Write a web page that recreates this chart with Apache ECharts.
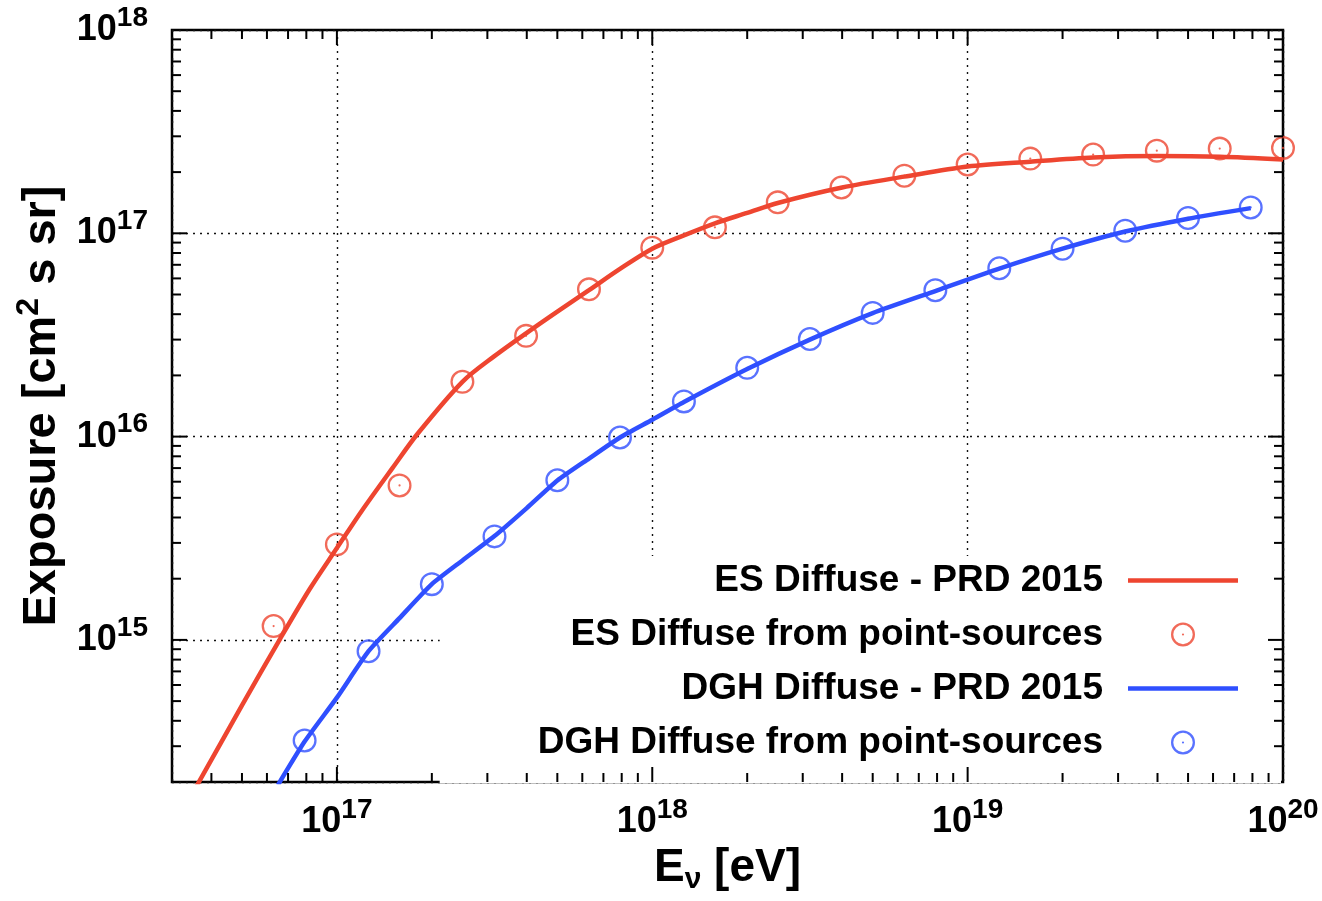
<!DOCTYPE html>
<html>
<head>
<meta charset="utf-8">
<title>Exposure vs neutrino energy</title>
<script src="https://cdn.jsdelivr.net/npm/echarts@6.0.0/dist/echarts.min.js"></script>
<style>
  html, body { margin: 0; padding: 0; background: #fff; }
  #chart { width: 1322px; height: 901px; }
</style>
</head>
<body>
<div id="chart"></div>
<script>
var FONT = '"Liberation Sans", Arial, Helvetica, sans-serif';
var RED = '#ee4530';
var BLUE = '#2f4fff';

var X_MIN = 3e16, X_MAX = 1e20;
var Y_MIN = 2e14, Y_MAX = 1e18;

// ES Diffuse - PRD 2015 (solid curve)
var esLineEnergy   = [3.5e16, 5e16, 6.6e16, 8.2e16, 1e17, 1.2e17, 1.5e17, 1.8e17, 2.5e17, 3.15e17, 4e17,
                      5e17, 6.3e17, 7.9e17, 1e18, 1.26e18, 1.58e18, 2e18, 2.5e18, 4e18, 6.3e18, 1e19,
                      1.58e19, 2.5e19, 4e19, 6.3e19, 1e20];
var esLineExposure = [1.78e14, 4.76e14, 1.01e15, 1.78e15, 2.83e15, 4.32e15, 7.0e15, 1.03e16, 1.86e16, 2.48e16, 3.24e16,
                      4.12e16, 5.25e16, 6.68e16, 8.4e16, 9.77e16, 1.12e17, 1.26e17, 1.41e17, 1.68e17, 1.9e17, 2.13e17,
                      2.25e17, 2.36e17, 2.4e17, 2.38e17, 2.31e17];

// ES Diffuse from point-sources (circles)
var esPointEnergy   = [6.3e16, 1e17, 1.58e17, 2.5e17, 3.98e17, 6.3e17, 1e18, 1.58e18, 2.5e18,
                       3.98e18, 6.3e18, 1e19, 1.58e19, 2.5e19, 3.98e19, 6.3e19, 1e20];
var esPointExposure = [1.17e15, 2.95e15, 5.75e15, 1.86e16, 3.13e16, 5.3e16, 8.5e16, 1.07e17, 1.42e17,
                       1.68e17, 1.92e17, 2.18e17, 2.33e17, 2.44e17, 2.55e17, 2.61e17, 2.63e17];

// DGH Diffuse - PRD 2015 (solid curve)
var dghLineEnergy   = [6.5e16, 7.9e16, 1e17, 1.26e17, 1.58e17, 2e17, 2.5e17, 3.16e17, 4e17, 5e17, 6.3e17,
                       7.9e17, 1e18, 1.26e18, 2e18, 3.16e18, 5e18, 7.9e18, 1.26e19, 2e19, 3.16e19, 5e19, 7.9e19];
var dghLineExposure = [1.93e14, 3.16e14, 5.2e14, 8.8e14, 1.28e15, 1.88e15, 2.46e15, 3.24e15, 4.45e15, 6.08e15, 7.8e15,
                       9.9e15, 1.21e16, 1.48e16, 2.15e16, 3.0e16, 4.05e16, 5.2e16, 6.7e16, 8.4e16, 1.02e17, 1.18e17, 1.33e17];

// DGH Diffuse from point-sources (circles)
var dghPointEnergy   = [7.9e16, 1.26e17, 2e17, 3.16e17, 5e17, 7.9e17, 1.26e18, 2e18, 3.16e18, 5e18,
                        7.9e18, 1.26e19, 2e19, 3.16e19, 5e19, 7.9e19];
var dghPointExposure = [3.2e14, 8.8e14, 1.88e15, 3.23e15, 6.1e15, 9.9e15, 1.49e16, 2.18e16, 3.02e16, 4.06e16,
                        5.25e16, 6.73e16, 8.4e16, 1.03e17, 1.19e17, 1.34e17];

// log-axis tick marks (drawn inside the frame on all four sides)
var minorMult = [2, 3, 4, 5, 6, 7, 8, 9];
var xDecades = [1e16, 1e17, 1e18, 1e19];
var yDecades = [1e14, 1e15, 1e16, 1e17];
var xMajorTicks = [1e17, 1e18, 1e19];
var yMajorTicks = [1e15, 1e16, 1e17];

var MAJOR_LEN = 15, MINOR_LEN = 9;

function pairs(xs, ys) {
    return xs.map(function (x, i) { return [x, ys[i]]; });
}

var xTickData = [], yTickData = [];
xDecades.forEach(function (d) {
    minorMult.forEach(function (m) {
        var v = d * m;
        if (v > X_MIN && v < X_MAX) xTickData.push([v, Y_MIN, MINOR_LEN]);
    });
});
yDecades.forEach(function (d) {
    minorMult.forEach(function (m) {
        var v = d * m;
        if (v > Y_MIN && v < Y_MAX) yTickData.push([X_MIN, v, MINOR_LEN]);
    });
});
xMajorTicks.forEach(function (v) { xTickData.push([v, Y_MIN, MAJOR_LEN]); });
yMajorTicks.forEach(function (v) { yTickData.push([X_MIN, v, MAJOR_LEN]); });

// custom series do not take the series z, so set it on every element
function tickLine(x1, y1, x2, y2) {
    return {
        type: 'line', z: 10, zlevel: 0, z2: 10,
        shape: { x1: x1, y1: y1, x2: x2, y2: y2 },
        style: { stroke: '#000', lineWidth: 2 }
    };
}

function xTickItem(params, api) {
    var len = api.value(2);
    var lo = api.coord([api.value(0), Y_MIN]);
    var hi = api.coord([api.value(0), Y_MAX]);
    return { type: 'group', z: 10, children: [
        tickLine(lo[0], lo[1], lo[0], lo[1] - len),
        tickLine(hi[0], hi[1], hi[0], hi[1] + len)
    ]};
}

function yTickItem(params, api) {
    var len = api.value(2);
    var l = api.coord([X_MIN, api.value(1)]);
    var r = api.coord([X_MAX, api.value(1)]);
    return { type: 'group', z: 10, children: [
        tickLine(l[0], l[1], l[0] + len, l[1]),
        tickLine(r[0], r[1], r[0] - len, r[1])
    ]};
}

// ring with a small dot in the middle
var ringSymbol = 'path://M12,0A12,12,0,1,1,12,24A12,12,0,1,1,12,0Z' +
    'M12,2.3A9.7,9.7,0,1,0,12,21.7A9.7,9.7,0,1,0,12,2.3Z' +
    'M12,10.9A1.1,1.1,0,1,1,12,13.1A1.1,1.1,0,1,1,12,10.9Z';
var lineIcon = 'path://M0,0L110,0L110,4.5L0,4.5Z';

var tickRich = {
    b: { fontFamily: FONT, fontWeight: 'bold', fontSize: 36, color: '#000' },
    s: { fontFamily: FONT, fontWeight: 'bold', fontSize: 28, color: '#000', padding: [0, 0, 24, 0] }
};

function powLabel(v) {
    var lg = Math.log10(v);
    var e = Math.round(lg);
    if (Math.abs(lg - e) > 1e-6) return '';
    return '{b|10}{s|' + e + '}';
}

var gridLine = { show: true, lineStyle: { color: '#111', width: 1.4, type: [2, 5] } };

var chart = echarts.init(document.getElementById('chart'));

var option = {
    backgroundColor: '#fff',
    animation: false,
    grid: {
        left: 172, right: 39, top: 30, bottom: 119,
        show: true, borderColor: '#000', borderWidth: 2.5, backgroundColor: 'transparent',
        outerBoundsMode: 'none'
    },
    xAxis: {
        type: 'log', logBase: 10, min: X_MIN, max: X_MAX,
        axisLine: { show: false }, axisTick: { show: false },
        splitLine: gridLine,
        axisLabel: { formatter: powLabel, margin: 14, rich: tickRich },
        name: 'E{sub|ν} [eV]',
        nameLocation: 'middle', nameGap: 58,
        nameTextStyle: {
            fontFamily: FONT, fontWeight: 'bold', fontSize: 46, color: '#000',
            rich: {
                sub: { fontFamily: FONT, fontWeight: 'bold', fontSize: 30, color: '#000', padding: [24, 0, 0, 0] }
            }
        }
    },
    yAxis: {
        type: 'log', logBase: 10, min: Y_MIN, max: Y_MAX,
        axisLine: { show: false }, axisTick: { show: false },
        splitLine: gridLine,
        axisLabel: { formatter: powLabel, margin: 24, rich: tickRich },
        name: 'Exposure [cm{sup|2} s sr]',
        nameLocation: 'middle', nameGap: 92, nameRotate: 90,
        nameTextStyle: {
            fontFamily: FONT, fontWeight: 'bold', fontSize: 47, color: '#000',
            rich: {
                sup: { fontFamily: FONT, fontWeight: 'bold', fontSize: 32, color: '#000', padding: [0, 0, 26, 0] }
            }
        }
    },
    legend: {
        z: 1,
        orient: 'vertical', align: 'right',
        right: 41, bottom: 118,
        padding: [6, 43, 22, 98],
        backgroundColor: '#fff',
        itemWidth: 110, itemHeight: 24, itemGap: 17,
        selectedMode: false,
        textStyle: { fontFamily: FONT, fontWeight: 'bold', fontSize: 37, color: '#000', lineHeight: 34, padding: [0, 20, 0, 0] },
        data: [
            { name: 'ES Diffuse - PRD 2015', icon: lineIcon },
            { name: 'ES Diffuse from point-sources' },
            { name: 'DGH Diffuse - PRD 2015', icon: lineIcon },
            { name: 'DGH Diffuse from point-sources' }
        ]
    },
    series: [
        {
            name: 'ES Diffuse - PRD 2015', type: 'line', smooth: 0.3,
            symbol: 'none', data: pairs(esLineEnergy, esLineExposure),
            lineStyle: { color: RED, width: 4.5 }, itemStyle: { color: RED }
        },
        {
            name: 'ES Diffuse from point-sources', type: 'scatter',
            symbol: ringSymbol, symbolSize: 24,
            data: pairs(esPointEnergy, esPointExposure),
            itemStyle: { color: RED }
        },
        {
            name: 'DGH Diffuse - PRD 2015', type: 'line', smooth: 0.2,
            symbol: 'none', data: pairs(dghLineEnergy, dghLineExposure),
            lineStyle: { color: BLUE, width: 4.5 }, itemStyle: { color: BLUE }
        },
        {
            name: 'DGH Diffuse from point-sources', type: 'scatter',
            symbol: ringSymbol, symbolSize: 24,
            data: pairs(dghPointEnergy, dghPointExposure),
            itemStyle: { color: BLUE }
        },
        {
            type: 'custom', silent: true, z: 10,
            renderItem: xTickItem, encode: { x: 0, y: 1 },
            data: xTickData
        },
        {
            type: 'custom', silent: true, z: 10,
            renderItem: yTickItem, encode: { x: 0, y: 1 },
            data: yTickData
        }
    ]
};

chart.setOption(option);
window.addEventListener('resize', function () {
    chart.resize();
});
</script>
</body>
</html>
